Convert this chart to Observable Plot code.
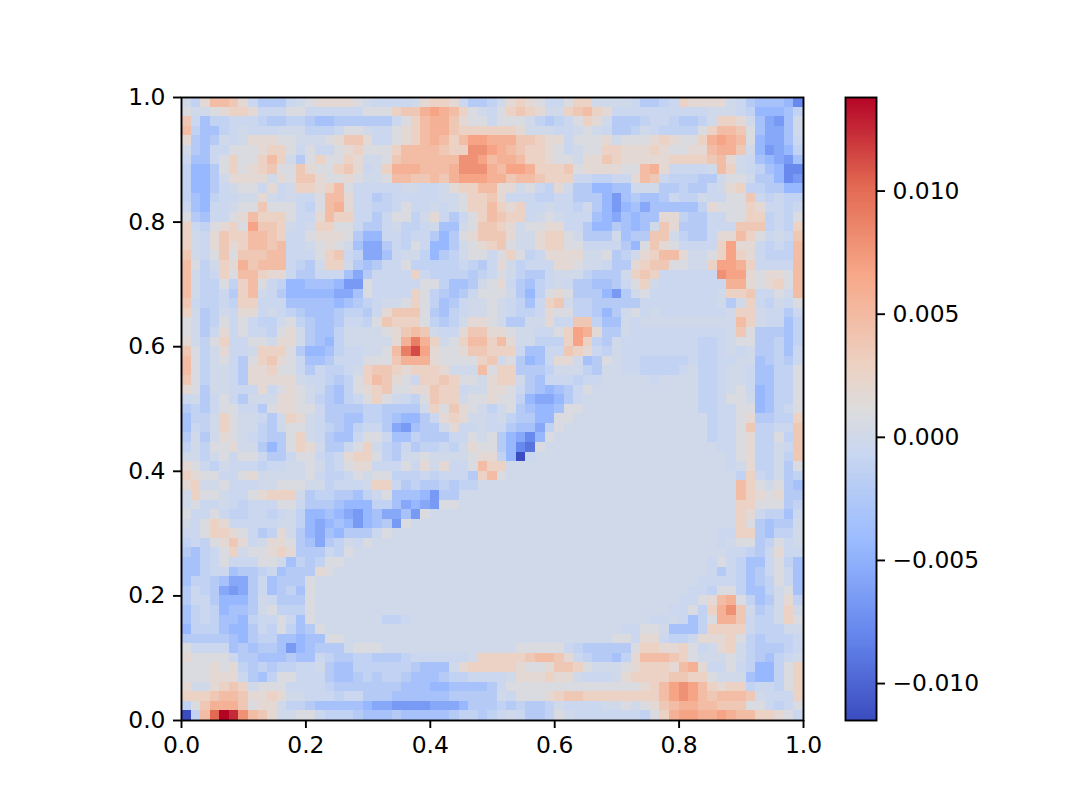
<!DOCTYPE html>
<html><head><meta charset="utf-8">
<script src="https://cdn.jsdelivr.net/npm/d3@7"></script>
<script src="https://cdn.jsdelivr.net/npm/@observablehq/plot@0.6"></script>
<style>
html,body{margin:0;padding:0;background:#fff}
#fig{position:relative;width:1078px;height:809px;overflow:hidden}
#fig svg{position:absolute;top:0;background:transparent}
</style></head><body><div id="fig"></div>
<script>
// heat values, top row first, one character per cell
const gridRows = [
"0b25542a ccca0122 2210aaaa 02332accb 02321aa1 330000ac cba32222 0acdddeh",
"10012332 aaa11aaa aaa11134 46765310a 13432003 4532aaaa aaaaaa00 0abeeedb",
"4adbbaaa bccbbcdd cccccca1 35664211a 1110bcba 1320cccb aabccb03 320dfgd0",
"5bddba0a aa000bbb a110aa12 356643333 332000aa 010accb0 abbbb135 541dffd0",
"2cdc0a02 22110001 2442aa12 356535776 6644322a 11120111 23211367 651effda",
"0cdaa111 2331a1aa 12311135 555433887 6543321a 01133222 32112256 640egfeb",
"adda1311 3530c131 13200145 555558875 66533211 02243222 22333345 20adefgd",
"beec1312 34114211 342a0366 655568886 57763334 12222115 62aaaa05 30abdehh",
"beec0222 20214421 12100155 445467776 64554333 aabbaa25 4abbbcc0 110ccehg",
"beeca011 a2a03323 51aaaaa0 0aa023355 2201ab20 cceedd00 0ccbcca0 23bbccee",
"bdebaa00 20a0aa15 52aacbaa aaa001334 2aaabbaa cccegdcd dcabb0aa 114ababb",
"adeaa011 4111ab15 62aabba1 aa0a01335 323aa0aa b0cegedf dddddb21 1132aaba",
"1cdaa125 3331aa25 33aaca11 b02aca135 433a010a aadefded d22bccaa 1133bab1",
"3ab12317 4430a033 11acca0b ba0dd0144 3201122a aceecded 042cccaa a444bab3",
"30a24335 543aa122 21ceeaab aacec1244 42002331 0ccc0dcc 440bcca2 2531a0a4",
"30a24235 545aa012 10dffcab 1aeec0123 41002331 1aaaace1 421aaaa3 722abab5",
"40a14144 455aaa13 4abffda0 0becb011a 131ba222 2001cb02 35520013 732abbb5",
"51b03264 555abc03 30cdcaa1 bbbbbabca 20baaa22 100acc23 44110037 763aaaa5",
"50ba3155 322accaa adfcaaaa 3abbbbcba 10bcca00 0bccc034 3aaaaaa8 77212215",
"50bb1b35 1abeeddd egg1aaaa a11bddc01 2acdba0a ccddca13 0aaaaaaa 66212315",
"50bbac35 0aceeeee ffd1aaaa 31bcdca11 10ceb121 cccegc01 aaaaaaa0 334aa105",
"4abbab33 aaaddddd edcba001 31bdca001 0abda340 bbccccca aaaaaaa0 c03ab0a1",
"30cb0a22 a0abcddd cbbca244 41cdba001 0abba211 bbcec01a 0aaaaaaa 0330aaca",
"10cb1a1a bb01bcdd caab1433 31bcb0221 0cc002aa 44bdd0a0 00000000 0530aadb",
"10ca2a1a ab120cdd b0000124 540aa2442 2100aa13 762cc0aa aaaaaaaa 041cccdb",
"20b13aa1 10220cde b0000026 963013553 5200bbb3 73bc0aaa aaaaabba 011ccbdb",
"41b02aa0 3331ceed baa00159 B72112443 33addaa4 32ab0aaa aaaaabba 0a0ccbda",
"51b01ac1 3421addc aaa11146 662111134 01ceda22 0dc10aab bbbbabba a00dcbca",
"51b00ac2 2311acab ba034432 333200051 33cccb00 0bc00aab bbba0bba 00addbb1",
"41b00ac2 22220aab cb135421 a33431102 330cdaaa baa00000 a0000bba 00addbb1",
"21c00aaa 2a1210ac db123411 22433a002 21acdedc a1000000 00000bba 01aedbb1",
"a0ca1ac0 002210bc dba1310a b14330112 11beffec a0000000 00000bba 110edbb1",
"cbca11aa c12211ac cccbbccc c0314210b 01cdeed1 10000000 00000bba a11edba1",
"dbb03100 ac0320ac cddbbcde eca23200a 0bccee11 00000000 000000ba a12ccbb3",
"dab03100 bc0110ab cdbaacfg dcc02aa0a acddfb10 00000000 000000ba a14bbaa4",
"c0c0210a bcc130ac dda11add bcccaa101 cefhe100 00000000 000000ba a12bb1b4",
"b0b11200 cec1320c ca130bca cbbab0211 cehi1000 00000000 0000000a a12bb0a4",
"00b01a11 acca11ab a2331bc0 010000122 beka0000 00000000 00000000 a12bb0b4",
"21ab0aaa baa0010b a122aaa1 a202aa153 30000000 00000000 00000000 a02bb0c1",
"3211aa12 000001ab ba1011bb babaaac35 10000000 00000000 00000000 0b3ab0cb",
"23001aaa 0011100b aaa033ac bccbcbb00 00000000 00000000 00000000 053101cd",
"03110aa1 23330cbb ccdba1dd degcc0000 00000000 00000000 00000000 053212cc",
"01aa0aba aa11accc deeebbdf efg110000 00000000 00000000 00000000 033111cb",
"1aa1abba aba0beed efgedffd g10000000 00000000 00000000 00000000 032abbda",
"0a132aaa aa00befe degedcg1 000000000 00000000 00000000 00000000 031cdcc0",
"aa13321a cb20cefd eccca100 000000000 00000000 00000000 0000000a a33cdbb0",
"bab1242a 0221cdfc b0a10000 000000000 00000000 00000000 0000000a 011cb1a0",
"cdba1301 1232ccca b1000000 000000000 00000000 00000000 00000000 aabca2aa",
"ddba1aaa 110dbcb1 10000000 000000000 00000000 00000000 000000a1 abdda1bd",
"ddbaadcc badccc21 00000000 000000000 00000000 00000000 000000ac abdca1ad",
"dbbcdffc adccc100 00000000 000000000 00000000 00000000 00000aaa abdcb1ad",
"cabcfgfc adcbd100 00000000 000000000 00000000 00000000 0000aab1 1bddb01d",
"caaceeec 0accc100 00000000 000000000 00000000 00000000 000aa125 61bdc02b",
"dbabeddc 01bbb100 00000000 000000000 00000000 00000000 00aa1b36 840cb030",
"dbabddeb aa1ad100 00000bba 000000000 00000000 00000000 aa0adb16 64abb031",
"ebbbdeec ab1bdc10 00000000 000000000 00000000 00000aa1 10dddb33 33abbb00",
"cccccdec bbddedd1 10000000 000000000 00000000 000011a2 2abba222 31bcbbba",
"1aaaadcd ccdgedcc c0111000 000000000 0011111a bccccc13 32231a02 30bcccba",
"21111acc dddcddab ccbbcccb aaaaaa033 33345542 abccdb25 55431000 10bcdba0",
"111212bc bcbbaa0c ddbbbbbb cddd02333 33211244 31000123 332562aa 1abeeb13",
"111222ac db11aaac ddcbcbbc dddcbbaaa a0222322 0aaa0233 33443310 00deeb13",
"20023430 111aaaab cccccccd ddeeddddc a1111111 11111112 35787532 33baab13",
"33345542 23200aaa baacccdd ddddccccc 0a111234 43333333 35787545 5540aaa3",
"b1466641 220bbcdd dddeffgg ggfffeccc bcbccb0a aaa00101 24566554 4411aba1",
"kb5AEC85 420011ab bbcdddcd ddddcbbcb a0accb10 aaaaaaab 13677667 6553321a"
];
const positiveCodes = "0123456789ABCDE";
const positiveLevels = [0, 0.0008, 0.0018, 0.0028, 0.0038, 0.0048, 0.0058, 0.0068, 0.0079, 0.0090, 0.0102, 0.0113, 0.0125, 0.0132, 0.0138];
const negativeCodes = "abcdefghijk";
const negativeLevels = [-0.0005, -0.0013, -0.0022, -0.0033, -0.0045, -0.0056, -0.0067, -0.0078, -0.0091, -0.0103, -0.0115];
const xTicks = [0, 0.2, 0.4, 0.6, 0.8, 1];
const yTicks = [0, 0.2, 0.4, 0.6, 0.8, 1];
const barTicks = [-0.010, -0.005, 0, 0.005, 0.010];
const vMin = -0.0115, vMax = 0.0138;
const coolwarmStops = [0, 0.143, 0.286, 0.429, 0.5, 0.571, 0.714, 0.857, 1];
const coolwarmColors = ["#3b4cc0","#6788ee","#9abbff","#c9d7f0","#dddcdc","#edd1c2","#f7a889","#e26952","#b40426"];

function codeValue(ch){
  const p = positiveCodes.indexOf(ch);
  return p >= 0 ? positiveLevels[p] : negativeLevels[negativeCodes.indexOf(ch)];
}
const rows = gridRows.map(r => r.replace(/ /g, ""));
const N = rows.length;
rows.forEach((r, i) => { if (r.length !== N) throw new Error("row " + i + " has length " + r.length); });
const cells = [];
rows.forEach((r, i) => { for (let j = 0; j < N; j++) cells.push({col: j, row: N - 1 - i, v: codeValue(r[j])}); });

const colorOpts = {
  type: "linear",
  domain: coolwarmStops.map(t => vMin + t * (vMax - vMin)),
  range: coolwarmColors,
  interpolate: "rgb",
  clamp: true
};
const font = {fontFamily: "'DejaVu Sans'", fontSize: "23.4px", background: "transparent", overflow: "visible"};

const main = Plot.plot({
  width: 803, height: 720 + 89,
  marginLeft: 181, marginRight: 0, marginTop: 97, marginBottom: 89,
  style: font,
  x: {domain: [0, 1]},
  y: {domain: [0, 1]},
  color: colorOpts,
  marks: [
    Plot.rect(cells, {x1: d => d.col / N, x2: d => (d.col + 1) / N, y1: d => d.row / N, y2: d => (d.row + 1) / N, fill: "v", inset: 0, shapeRendering: "crispEdges"}),
    Plot.axisX({ticks: xTicks, tickFormat: ".1f", tickSize: 8, tickPadding: 8, strokeWidth: 1.9, stroke: "black", fill: "black", fontSize: 23.4, label: null}),
    Plot.axisY({ticks: yTicks, tickFormat: ".1f", tickSize: 8, tickPadding: 8, strokeWidth: 1.9, stroke: "black", fill: "black", fontSize: 23.4, label: null}),
    Plot.frame({stroke: "black", strokeWidth: 1.9})
  ]
});
main.style.left = "0px";

const steps = d3.range(256).map(i => ({a: vMin + i / 256 * (vMax - vMin), b: vMin + (i + 1) / 256 * (vMax - vMin)}));
const bar = Plot.plot({
  width: 233, height: 809,
  marginLeft: 2, marginRight: 200, marginTop: 97, marginBottom: 89,
  style: font,
  x: {domain: [0, 1], axis: null},
  y: {domain: [vMin, vMax]},
  color: colorOpts,
  marks: [
    Plot.rect(steps, {x1: 0, x2: 1, y1: "a", y2: "b", fill: d => (d.a + d.b) / 2, shapeRendering: "crispEdges"}),
    Plot.axisY({anchor: "right", ticks: barTicks, tickFormat: ".3f", tickSize: 8, tickPadding: 8, strokeWidth: 1.9, stroke: "black", fill: "black", fontSize: 23.4, label: null}),
    Plot.frame({stroke: "black", strokeWidth: 1.9})
  ]
});
bar.style.left = "843px";
const fig = document.getElementById("fig");
fig.append(main, bar);
</script></body></html>
